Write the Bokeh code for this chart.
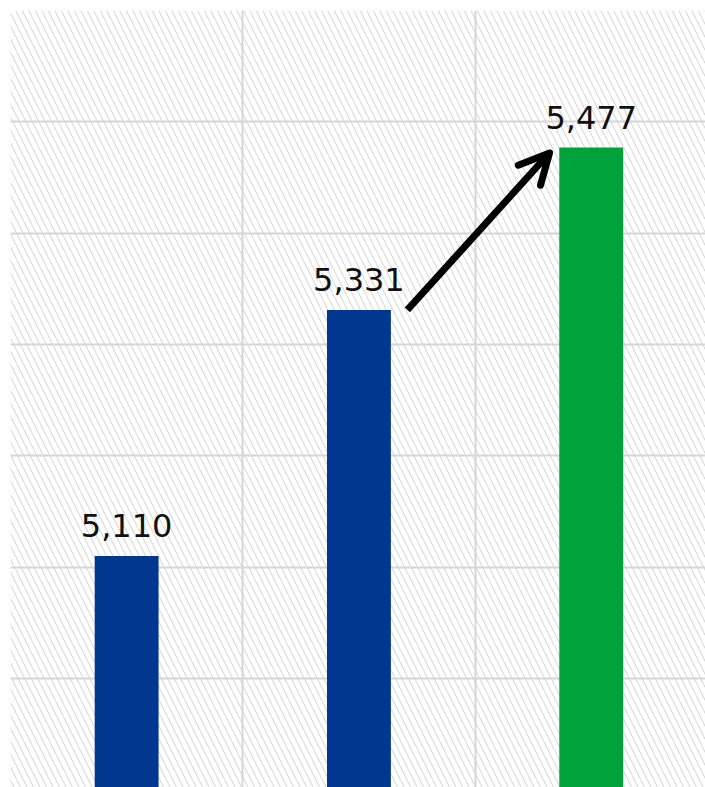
from bokeh.plotting import figure
from bokeh.models import BoxAnnotation, FixedTicker, Arrow, OpenHead, ColumnDataSource
from bokeh.core.properties import value
from bokeh.embed import file_html
from bokeh.resources import INLINE

# ---- data ----
categories = ["A", "B", "C"]
values = [5110, 5331, 5477]
labels = ["5,110", "5,331", "5,477"]
colors = ["#00388F", "#00388F", "#00A33B"]
y_ticks = [4900, 5000, 5100, 5200, 5300, 5400, 5500, 5600]
x_ticks = [0, 1, 2, 3]

bar_w = 0.275
xs = [i + 0.5 for i in range(len(categories))]

src = ColumnDataSource(dict(x=xs, top=values, label=labels, color=colors))

p = figure(width=705, height=787, x_range=(0, 2.992), y_range=(4902, 5600),
           output_backend="svg", toolbar_location=None,
           min_border_left=10, min_border_top=10, min_border_right=0, min_border_bottom=0)
p.xaxis.visible = False
p.yaxis.visible = False
p.outline_line_color = None
p.background_fill_color = "white"
p.border_fill_color = "white"

p.xgrid.ticker = FixedTicker(ticks=x_ticks)
p.ygrid.ticker = FixedTicker(ticks=y_ticks)
for g in (p.xgrid, p.ygrid):
    g.grid_line_color = "#d6d6d6"
    g.grid_line_width = 2

hatch = BoxAnnotation(fill_color=None, line_color=None, hatch_pattern="\\",
                      hatch_color="#d2d2d2", hatch_scale=13, hatch_weight=1,
                      level="image")
p.add_layout(hatch)

p.vbar(x="x", top="top", bottom=0, width=bar_w, color="color", line_color=None, source=src)

p.text(x="x", y="top", text="label", source=src, text_align="center",
       text_baseline="alphabetic", y_offset=-30, text_font_size="32px",
       text_font=value("DejaVu Sans"), text_color="#111111")

# arrow from top of 2nd bar toward the 3rd bar's top
x0 = xs[1] + bar_w / 2 + 0.071
y0 = values[1]
x1 = xs[2] - bar_w / 2 - 0.042
y1 = values[2] - 5
p.add_layout(Arrow(end=OpenHead(size=30, line_width=7, line_color="black", line_join="round", line_cap="round"),
                   x_start=x0, y_start=y0, x_end=x1, y_end=y1,
                   line_width=7, line_color="black", line_cap="butt"))

open("out.html", "w").write(file_html(p, INLINE))
